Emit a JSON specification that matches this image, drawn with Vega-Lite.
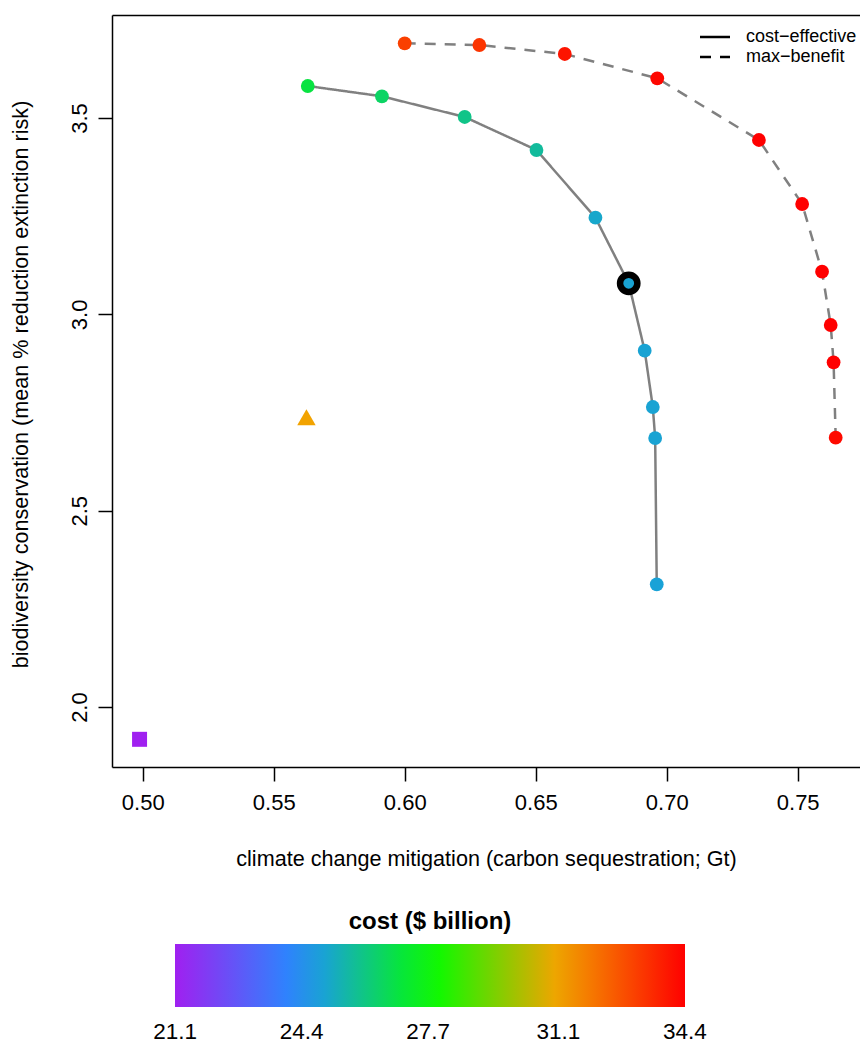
{
  "$schema": "https://vega.github.io/schema/vega-lite/v6.json",
  "autosize": "none",
  "width": 748,
  "height": 752,
  "padding": {"left": 112, "top": 15, "right": 0, "bottom": 276},
  "config": {
    "font": "Liberation Sans",
    "view": {"stroke": null},
    "axis": {
      "domainColor": "black", "domainWidth": 1.5,
      "tickColor": "black", "tickWidth": 1.5, "tickSize": 14,
      "labelColor": "black", "labelFontSize": 22,
      "titleColor": "black", "titleFontSize": 21.6, "titleFontWeight": "normal",
      "grid": false
    },
    "legend": {"labelColor": "black", "titleColor": "black", "padding": 0}
  },
  "data": {
    "values": [
      {"type": "cost−effective", "marker": "circle", "ord": 1, "x": 0.5630, "y": 3.5815, "cost": 26.9, "sel": false},
      {"type": "cost−effective", "marker": "circle", "ord": 2, "x": 0.5913, "y": 3.5553, "cost": 26.45, "sel": false},
      {"type": "cost−effective", "marker": "circle", "ord": 3, "x": 0.6229, "y": 3.5026, "cost": 25.98, "sel": false},
      {"type": "cost−effective", "marker": "circle", "ord": 4, "x": 0.6503, "y": 3.4185, "cost": 25.72, "sel": false},
      {"type": "cost−effective", "marker": "circle", "ord": 5, "x": 0.6728, "y": 3.2461, "cost": 25.1, "sel": false},
      {"type": "cost−effective", "marker": "circle", "ord": 6, "x": 0.6855, "y": 3.0791, "cost": 25.0, "sel": true},
      {"type": "cost−effective", "marker": "circle", "ord": 7, "x": 0.6916, "y": 2.9075, "cost": 25.0, "sel": false},
      {"type": "cost−effective", "marker": "circle", "ord": 8, "x": 0.6947, "y": 2.7641, "cost": 25.0, "sel": false},
      {"type": "cost−effective", "marker": "circle", "ord": 9, "x": 0.6956, "y": 2.6851, "cost": 25.0, "sel": false},
      {"type": "cost−effective", "marker": "circle", "ord": 10, "x": 0.6962, "y": 2.3126, "cost": 24.95, "sel": false},
      {"type": "max−benefit", "marker": "circle", "ord": 1, "x": 0.6000, "y": 3.6902, "cost": 33.1, "sel": false},
      {"type": "max−benefit", "marker": "circle", "ord": 2, "x": 0.6285, "y": 3.6859, "cost": 33.35, "sel": false},
      {"type": "max−benefit", "marker": "circle", "ord": 3, "x": 0.6611, "y": 3.6630, "cost": 34.0, "sel": false},
      {"type": "max−benefit", "marker": "circle", "ord": 4, "x": 0.6964, "y": 3.6011, "cost": 34.25, "sel": false},
      {"type": "max−benefit", "marker": "circle", "ord": 5, "x": 0.7352, "y": 3.4440, "cost": 34.4, "sel": false},
      {"type": "max−benefit", "marker": "circle", "ord": 6, "x": 0.7517, "y": 3.2810, "cost": 34.4, "sel": false},
      {"type": "max−benefit", "marker": "circle", "ord": 7, "x": 0.7593, "y": 3.1086, "cost": 34.4, "sel": false},
      {"type": "max−benefit", "marker": "circle", "ord": 8, "x": 0.7626, "y": 2.9729, "cost": 34.4, "sel": false},
      {"type": "max−benefit", "marker": "circle", "ord": 9, "x": 0.7637, "y": 2.8779, "cost": 34.4, "sel": false},
      {"type": "max−benefit", "marker": "circle", "ord": 10, "x": 0.7645, "y": 2.6859, "cost": 34.2, "sel": false},
      {"type": "other", "marker": "triangle", "ord": 1, "x": 0.5625, "y": 2.7379, "cost": 31.1, "sel": false},
      {"type": "other", "marker": "square", "ord": 1, "x": 0.4988, "y": 1.9179, "cost": 21.1, "sel": false}
    ]
  },
  "encoding": {
    "x": {"field": "x", "type": "quantitative", "scale": {"domain": [0.48828, 0.77378], "nice": false, "zero": false}, "axis": null},
    "y": {"field": "y", "type": "quantitative", "scale": {"domain": [1.8474, 3.7623], "nice": false, "zero": false},
      "axis": {"orient": "left", "values": [2.0, 2.5, 3.0, 3.5], "format": ".1f", "labelAngle": -90, "labelAlign": "center", "labelBaseline": "bottom", "labelPadding": 7, "title": "biodiversity conservation (mean % reduction extinction risk)", "titleX": -80, "titleY": 369, "titleAngle": -90, "titleAlign": "center", "titleBaseline": "bottom"}}
  },
  "layer": [
    {
      "transform": [{"filter": "datum.marker === 'circle'"}],
      "mark": {"type": "line", "color": "#808080", "strokeWidth": 2.5},
      "encoding": {
        "x": {"field": "x", "type": "quantitative", "scale": {"domain": [0.48828, 0.77378], "nice": false, "zero": false},
          "axis": {"orient": "bottom", "values": [0.5, 0.55, 0.6, 0.65, 0.7, 0.75], "format": ".2f", "labelPadding": 11, "title": "climate change mitigation (carbon sequestration; Gt)", "titleY": 81, "titleBaseline": "top"}},
        "order": {"field": "ord", "type": "quantitative"},
        "strokeDash": {"field": "type", "type": "nominal",
          "scale": {"domain": ["cost−effective", "max−benefit"], "range": [[1, 0], [11, 9]]},
          "legend": {"title": null, "orient": "none", "legendX": 594, "legendY": 13, "symbolType": "M-3,0H3", "symbolSize": 100, "symbolStrokeWidth": 2.5, "symbolStrokeColor": "black", "symbolOpacity": 1, "labelFontSize": 18, "labelOffset": 22, "rowPadding": 2, "padding": 0}}
      }
    },
    {
      "transform": [{"filter": "datum.marker === 'circle'"}],
      "mark": {"type": "point", "shape": "circle", "filled": true, "size": 190, "opacity": 1},
      "encoding": {
        "x": {"field": "x", "type": "quantitative", "scale": {"domain": [0.48828, 0.77378], "nice": false, "zero": false},
          "axis": {"orient": "top", "labels": false, "ticks": false, "title": null}},
        "color": {"field": "cost", "type": "quantitative",
          "scale": {"domain": [21.099, 24.425, 27.75, 31.075, 34.401], "range": ["#A020F0", "#1E90FF", "#00FF00", "#F2A400", "#FF0000"], "interpolate": "rgb"},
          "legend": {"title": "cost ($ billion)", "orient": "none", "direction": "horizontal", "legendX": 63, "legendY": 895, "gradientLength": 510, "gradientThickness": 63, "gradientStrokeWidth": 0, "titleFontSize": 24, "titleFontWeight": "bold", "titleAnchor": "middle", "titlePadding": 10, "labelFontSize": 22.5, "labelOffset": 14, "values": [21.1, 24.4, 27.7, 31.1, 34.4], "format": ".1f", "labelOverlap": false, "padding": 0}}
      }
    },
    {
      "transform": [{"filter": "datum.marker === 'triangle'"}],
      "mark": {"type": "point", "shape": "triangle-up", "filled": true, "size": 340, "opacity": 1},
      "encoding": {
        "color": {"field": "cost", "type": "quantitative",
          "scale": {"domain": [21.099, 24.425, 27.75, 31.075, 34.401], "range": ["#A020F0", "#1E90FF", "#00FF00", "#F2A400", "#FF0000"], "interpolate": "rgb"}, "legend": null}
      }
    },
    {
      "transform": [{"filter": "datum.marker === 'square'"}],
      "mark": {"type": "point", "shape": "square", "filled": true, "size": 225, "opacity": 1},
      "encoding": {
        "color": {"field": "cost", "type": "quantitative",
          "scale": {"domain": [21.099, 24.425, 27.75, 31.075, 34.401], "range": ["#A020F0", "#1E90FF", "#00FF00", "#F2A400", "#FF0000"], "interpolate": "rgb"}, "legend": null}
      }
    },
    {
      "transform": [{"filter": "datum.sel"}],
      "mark": {"type": "point", "shape": "circle", "filled": false, "size": 300, "stroke": "black", "strokeWidth": 6.5, "opacity": 1}
    }
  ],
  "resolve": {"axis": {"x": "independent"}}
}
